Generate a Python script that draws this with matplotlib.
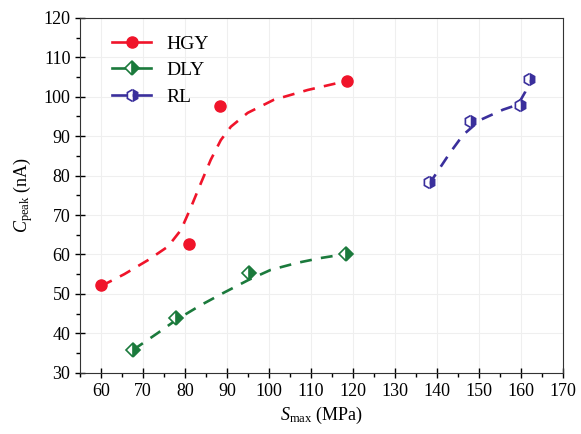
import matplotlib.pyplot as plt
from matplotlib.lines import Line2D
from matplotlib.ticker import MultipleLocator

plt.rcParams['font.family'] = ['Liberation Serif', 'DejaVu Serif']
plt.rcParams['mathtext.fontset'] = 'custom'
plt.rcParams['mathtext.rm'] = 'Liberation Serif'
plt.rcParams['mathtext.it'] = 'Liberation Serif:italic'

## Data

# measured points
hgy_x = [60, 80.9, 88.3, 118.6]
hgy_y = [52.3, 62.7, 97.7, 104.1]
dly_x = [67.6, 77.8, 95.2, 118.2]
dly_y = [35.8, 43.9, 55.3, 60.2]
rl_x = [138.1, 147.9, 159.8, 161.9]
rl_y = [78.3, 93.9, 97.9, 104.5]

# fitted curves (dashed)
hgy_fit_x = [60, 65.5, 71.2, 75.9, 79, 81.4, 83.8, 86.1, 88.5, 90.9, 94.9, 101.1, 109.2, 117.7]
hgy_fit_y = [52.0, 55.0, 58.6, 62.0, 66.2, 72.0, 78.2, 84.0, 89.0, 92.4, 95.9, 99.2, 101.7, 103.8]
dly_fit_x = [67.6, 73.5, 78, 83.8, 89.2, 95.2, 100.4, 106.8, 112.3, 118.2]
dly_fit_y = [35.8, 40.1, 43.5, 47.2, 50.3, 53.6, 56.1, 57.9, 59.1, 60.1]
rl_fit_x = [138.1, 143.1, 146.2, 150.3, 155.7, 159.3, 161.0, 162.0]
rl_fit_y = [77.8, 85.8, 90.3, 94.1, 96.7, 98.0, 101.2, 104.3]

red = '#f0142a'
green = '#1b7a3c'
blue = '#3a2f9c'

fig = plt.figure(figsize=(5.81, 4.34), dpi=100)
ax = fig.add_axes([0.138, 0.141, 0.831, 0.818])

ax.plot(hgy_fit_x, hgy_fit_y, color=red, lw=1.9, dashes=(4.5, 3.5))
ax.plot(dly_fit_x, dly_fit_y, color=green, lw=1.9, dashes=(4.5, 3.5))
ax.plot(rl_fit_x, rl_fit_y, color=blue, lw=1.9, dashes=(4.5, 3.5))

ax.plot(hgy_x, hgy_y, 'o', color=red, ms=8, mec=red, zorder=3)
ax.plot(dly_x, dly_y, 'D', color=green, ms=7.5, fillstyle='right',
        markerfacecoloralt='white', mec=green, mew=1.2, zorder=3)
ax.plot(rl_x, rl_y, 'h', color=blue, ms=8.5, fillstyle='right',
        markerfacecoloralt='white', mec=blue, mew=1.2, zorder=3)

## Legend

handles = [
    Line2D([], [], color=red, lw=1.9, marker='o', ms=8, mec=red),
    Line2D([], [], color=green, lw=1.9, marker='D', ms=7.5, fillstyle='right',
           markerfacecoloralt='white', mec=green, mew=1.2),
    Line2D([], [], color=blue, lw=1.9, marker='h', ms=8.5, fillstyle='right',
           markerfacecoloralt='white', mec=blue, mew=1.2),
]
ax.legend(handles, ['HGY', 'DLY', 'RL'], loc='upper left', frameon=False,
          fontsize=14, handlelength=2.0, labelspacing=0.45,
          bbox_to_anchor=(0.03, 1.0))

## Axes

ax.set_xlim(55, 170)
ax.set_ylim(30, 120)
ax.xaxis.set_major_locator(MultipleLocator(10))
ax.xaxis.set_minor_locator(MultipleLocator(5))
ax.yaxis.set_major_locator(MultipleLocator(10))
ax.yaxis.set_minor_locator(MultipleLocator(5))
ax.tick_params(which='major', direction='inout', length=7, width=1,
               labelsize=13, top=False, right=False)
ax.tick_params(which='minor', direction='out', length=3, width=1,
               top=False, right=False)
ax.grid(True, which='major', color='#efefef', lw=0.8)
for s in ax.spines.values():
    s.set_color('#333333')

ax.set_xlabel(r'$S_{\mathrm{max}}$ (MPa)', fontsize=13, labelpad=4)
ax.set_ylabel(r'$C_{\mathrm{peak}}$ (nA)', fontsize=13, labelpad=6)

plt.savefig('out.png', dpi=100)
